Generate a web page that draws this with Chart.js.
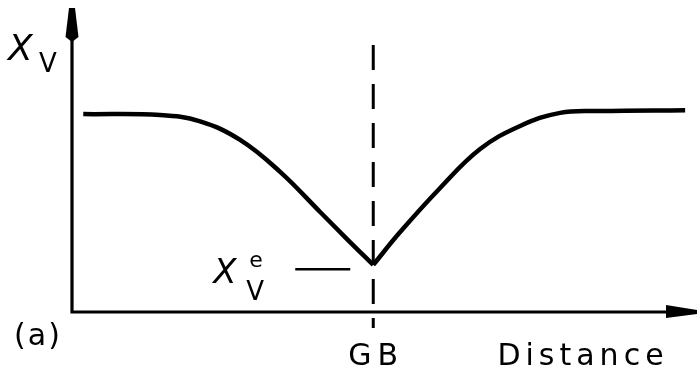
<!DOCTYPE html>
<html>
<head>
<meta charset="utf-8">
<script src="https://cdn.jsdelivr.net/npm/chart.js@4/dist/chart.umd.min.js"></script>
<style>
  html, body { margin: 0; padding: 0; background: #fff; }
  #wrap { width: 697px; height: 376px; position: relative; }
</style>
</head>
<body>
<div id="wrap"><canvas id="profile"></canvas></div>
<script>
// vacancy fraction across a grain boundary (arbitrary units, 0-100)
const distanceLeft = [1.8, 14.1, 20.5, 26.9, 33.3, 39.7, 44.0, 48.2];
const fractionLeft = [65.1, 64.8, 62.7, 56.6, 46.1, 32.9, 24.0, 15.5];
const distanceRight = [48.2, 52.5, 58.9, 65.3, 71.7, 78.1, 84.5, 98.1];
const fractionRight = [15.5, 26.3, 40.8, 53.6, 61.2, 65.5, 66.1, 66.4];

const gbDistance = 48.2;
const gbLine = [87.8, -5.3];
const equilibriumFraction = 14.1;

const toPoints = (xs, ys) => xs.map((x, i) => ({ x: x, y: ys[i] }));

const sketchPlugin = {
  id: 'sketch',
  afterDraw(chart) {
    const ctx = chart.ctx;
    const xs = chart.scales.x, ys = chart.scales.y;
    const area = chart.chartArea;
    const x0 = xs.getPixelForValue(0);
    const y0 = ys.getPixelForValue(0);

    ctx.save();
    ctx.strokeStyle = '#000';
    ctx.fillStyle = '#000';
    ctx.lineWidth = 3.2;
    ctx.lineCap = 'butt';

    // axes
    ctx.beginPath();
    ctx.moveTo(x0, area.top + 30);
    ctx.lineTo(x0, y0);
    ctx.lineTo(area.right - 28, y0);
    ctx.stroke();

    // arrow heads
    ctx.beginPath();
    ctx.moveTo(x0 - 3, area.top);
    ctx.lineTo(x0 + 3, area.top);
    ctx.lineTo(x0 + 6.5, area.top + 29);
    ctx.lineTo(x0, area.top + 34);
    ctx.lineTo(x0 - 6.5, area.top + 29);
    ctx.closePath();
    ctx.fill();

    ctx.beginPath();
    ctx.moveTo(area.right - 31, y0 - 7);
    ctx.lineTo(area.right, y0 - 2);
    ctx.lineTo(area.right, y0 + 2);
    ctx.lineTo(area.right - 31, y0 + 6);
    ctx.closePath();
    ctx.fill();

    // marker for the equilibrium level
    const ye = ys.getPixelForValue(equilibriumFraction);
    const xg = xs.getPixelForValue(gbDistance);
    ctx.lineWidth = 2.5;
    ctx.beginPath();
    ctx.moveTo(xg - 78, ye);
    ctx.lineTo(xg - 23, ye);
    ctx.stroke();

    // labels
    ctx.textBaseline = 'alphabetic';
    ctx.textAlign = 'left';

    ctx.font = 'italic 36px "DejaVu Sans"';
    ctx.fillText('X', x0 - 64, 60);
    ctx.font = '26px "DejaVu Sans"';
    ctx.fillText('V', x0 - 33, 72);

    ctx.font = 'italic 34px "DejaVu Sans"';
    ctx.fillText('X', xg - 160, 283);
    ctx.font = '22px "DejaVu Sans"';
    ctx.fillText('e', xg - 124, 267);
    ctx.font = '26px "DejaVu Sans"';
    ctx.fillText('V', xg - 127, 300);

    ctx.font = '30px "DejaVu Sans"';
    ctx.letterSpacing = '6px';
    ctx.textAlign = 'center';
    ctx.fillText('GB', xg + 3, 365);
    ctx.letterSpacing = '5px';
    ctx.fillText('Distance', 583, 365);
    ctx.letterSpacing = '2px';
    ctx.fillText('(a)', 38, 345);
    ctx.restore();
  }
};

new Chart(document.getElementById('profile'), {
  type: 'line',
  data: {
    datasets: [
      {
        data: toPoints(distanceLeft, fractionLeft),
        borderColor: '#000',
        borderWidth: 4.5,
        pointRadius: 0,
        tension: 0.4
      },
      {
        data: toPoints(distanceRight, fractionRight),
        borderColor: '#000',
        borderWidth: 4.5,
        pointRadius: 0,
        tension: 0.4
      },
      {
        data: toPoints([gbDistance, gbDistance], gbLine),
        borderColor: '#000',
        borderWidth: 3,
        borderDash: [25, 14],
        pointRadius: 0,
        clip: false
      }
    ]
  },
  options: {
    responsive: true,
    maintainAspectRatio: false,
    animation: false,
    layout: { padding: { left: 72, right: 0, top: 8, bottom: 64 } },
    plugins: { legend: { display: false }, tooltip: { enabled: false } },
    scales: {
      x: { type: 'linear', min: 0, max: 100, display: false },
      y: { min: 0, max: 100, display: false }
    }
  },
  plugins: [sketchPlugin]
});
</script>
</body>
</html>
